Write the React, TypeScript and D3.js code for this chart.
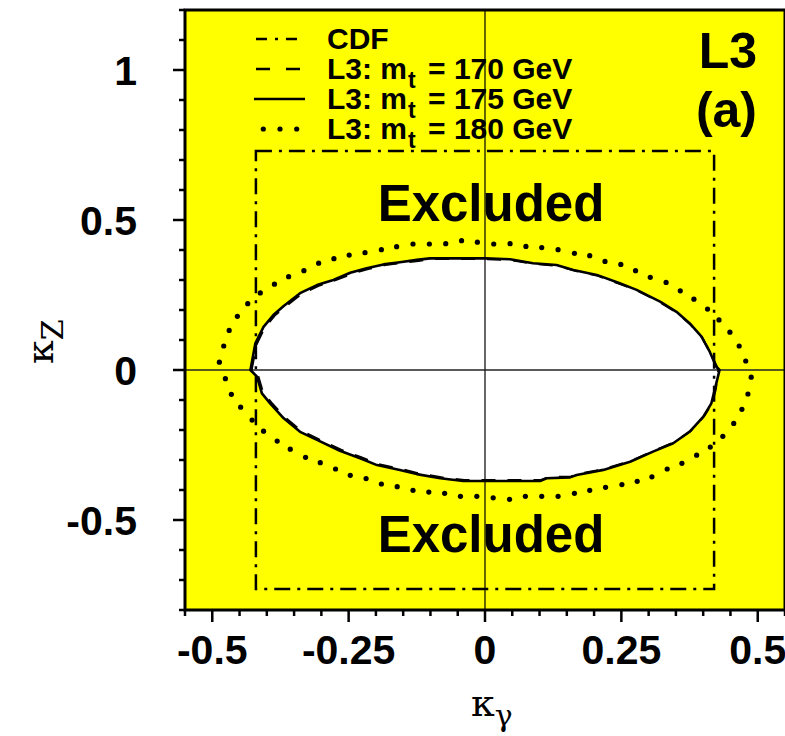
import React from "react";
import * as d3 from "d3";

// ---- data ----
const xMajorTicks = [-0.5, -0.25, 0, 0.25, 0.5];
const xTickLabels = ["-0.5", "-0.25", "0", "0.25", "0.5"];
const yMajorTicks = [-0.5, 0, 0.5, 1];
const yTickLabels = ["-0.5", "0", "0.5", "1"];
const xMinorTicks = d3.range(-11, 12).map((i) => i * 0.05);
const yMinorTicks = d3.range(-8, 13).map((i) => i * 0.1);

const cdfX = [-0.42, 0.42];
const cdfY = [-0.73, 0.73];

const l3mt175: [number, number][] = [
  [-0.43, 0], [-0.421, 0.089], [-0.406, 0.144], [-0.388, 0.183], [-0.369, 0.213], [-0.339, 0.256],
  [-0.308, 0.283], [-0.278, 0.3], [-0.247, 0.324], [-0.217, 0.339], [-0.186, 0.352], [-0.156, 0.359],
  [-0.125, 0.367], [-0.101, 0.372], [0, 0.372], [0.046, 0.369], [0.088, 0.356], [0.131, 0.35],
  [0.162, 0.333], [0.205, 0.317], [0.247, 0.289], [0.278, 0.267], [0.321, 0.228], [0.351, 0.194],
  [0.375, 0.156], [0.397, 0.111], [0.412, 0.061], [0.424, 0.011], [0.43, 0],
  [0.421, -0.067], [0.415, -0.111], [0.4, -0.156], [0.375, -0.206], [0.345, -0.244], [0.308, -0.272],
  [0.266, -0.306], [0.217, -0.333], [0.168, -0.35], [0.156, -0.358], [0.113, -0.361], [0.101, -0.37],
  [-0.04, -0.37], [-0.082, -0.361], [-0.125, -0.347], [-0.156, -0.333], [-0.198, -0.317], [-0.229, -0.294],
  [-0.266, -0.269], [-0.308, -0.233], [-0.339, -0.206], [-0.369, -0.161], [-0.394, -0.111], [-0.409, -0.078],
  [-0.418, -0.022], [-0.43, 0],
];

const l3mt170: [number, number][] = [
  [-0.428, 0], [-0.419, 0.085], [-0.404, 0.141], [-0.386, 0.181], [-0.366, 0.212], [-0.336, 0.254],
  [-0.305, 0.281], [-0.275, 0.299], [-0.244, 0.321], [-0.214, 0.337], [-0.183, 0.35], [-0.153, 0.357],
  [-0.122, 0.364], [-0.098, 0.37], [0, 0.37], [0.048, 0.366], [0.09, 0.354], [0.133, 0.347],
  [0.165, 0.331], [0.207, 0.314], [0.249, 0.286], [0.28, 0.264], [0.322, 0.225], [0.352, 0.191],
  [0.376, 0.153], [0.398, 0.108], [0.413, 0.058], [0.426, 0.008], [0.428, 0],
  [0.423, -0.064], [0.417, -0.108], [0.402, -0.153], [0.377, -0.203], [0.347, -0.241], [0.31, -0.269],
  [0.268, -0.303], [0.219, -0.33], [0.17, -0.347], [0.158, -0.355], [0.115, -0.358], [0.103, -0.367],
  [-0.038, -0.367], [-0.08, -0.358], [-0.123, -0.344], [-0.154, -0.33], [-0.196, -0.314], [-0.227, -0.291],
  [-0.264, -0.266], [-0.306, -0.23], [-0.337, -0.203], [-0.367, -0.158], [-0.392, -0.108], [-0.407, -0.075],
  [-0.416, -0.019], [-0.428, 0],
];

const l3mt180: [number, number][] = [
  [-0.487, 0.026], [-0.479, 0.08], [-0.469, 0.132], [-0.454, 0.179], [-0.435, 0.221], [-0.412, 0.257],
  [-0.386, 0.286], [-0.36, 0.311], [-0.332, 0.331], [-0.305, 0.356], [-0.277, 0.371], [-0.249, 0.383],
  [-0.22, 0.391], [-0.19, 0.401], [-0.162, 0.411], [-0.132, 0.42], [-0.102, 0.42], [-0.072, 0.421],
  [-0.043, 0.431], [-0.014, 0.426], [0.016, 0.42], [0.046, 0.421], [0.075, 0.412], [0.104, 0.408],
  [0.134, 0.401], [0.164, 0.389], [0.192, 0.381], [0.22, 0.362], [0.249, 0.352], [0.276, 0.331],
  [0.303, 0.309], [0.332, 0.292], [0.358, 0.264], [0.383, 0.236], [0.408, 0.203], [0.429, 0.167],
  [0.449, 0.126], [0.466, 0.08], [0.478, 0.03], [0.488, -0.024],
  [0.482, -0.08], [0.471, -0.131], [0.456, -0.178], [0.436, -0.221], [0.413, -0.257], [0.388, -0.284],
  [0.361, -0.311], [0.334, -0.33], [0.306, -0.356], [0.279, -0.371], [0.251, -0.382], [0.221, -0.391],
  [0.192, -0.401], [0.164, -0.411], [0.134, -0.421], [0.104, -0.421], [0.074, -0.421], [0.045, -0.431],
  [0.015, -0.426], [-0.015, -0.421], [-0.045, -0.421], [-0.074, -0.411], [-0.103, -0.407], [-0.132, -0.401],
  [-0.161, -0.389], [-0.19, -0.38], [-0.218, -0.362], [-0.247, -0.351], [-0.274, -0.33], [-0.302, -0.309],
  [-0.329, -0.291], [-0.357, -0.264], [-0.381, -0.237], [-0.406, -0.204], [-0.427, -0.167], [-0.448, -0.124],
  [-0.465, -0.081], [-0.476, -0.029],
];

const legendLabels = ["CDF", "L3: m", "L3: m", "L3: m"];
const legendSuffix = ["", " = 170 GeV", " = 175 GeV", " = 180 GeV"];

// ---- layout ----
const W = 785;
const H = 736;
const L = 185, R = 785, T = 10, B = 610;
const SANS = "'Liberation Sans', Arial, Helvetica, sans-serif";
const SERIF = "'DejaVu Serif', 'Liberation Serif', serif";
const CDF_DASH = "16 7 3 7";

export default function App() {
  const x = d3.scaleLinear().domain([-0.55, 0.55]).range([L, R]);
  const y = d3.scaleLinear().domain([-0.8, 1.2]).range([B, T]);
  const line = d3
    .line<[number, number]>()
    .x((d) => x(d[0]))
    .y((d) => y(d[1]));
  const yMaj = new Set(yMajorTicks.map((v) => v.toFixed(2)));
  const xMaj = new Set(xMajorTicks.map((v) => v.toFixed(2)));

  const legendY = [39, 69, 99, 129];

  return (
    <svg
      width={W}
      height={H}
      style={{ position: "absolute", left: 0, top: 0, background: "#fff" }}
      fontFamily={SANS}
    >
      <defs>
        <clipPath id="plot">
          <rect x={L} y={T} width={R - L} height={B - T} />
        </clipPath>
      </defs>
      <rect x={L} y={T} width={R - L} height={B - T} fill="#ffff00" />
      <g clipPath="url(#plot)">
        <path d={line(l3mt175) + "Z"} fill="#fff" stroke="none" />
        <line x1={x(0)} x2={x(0)} y1={T} y2={B} stroke="#000" strokeWidth={1.2} />
        <line x1={L} x2={R} y1={y(0)} y2={y(0)} stroke="#222" strokeWidth={1.4} />
        <rect
          x={x(cdfX[0])}
          y={y(cdfY[1])}
          width={x(cdfX[1]) - x(cdfX[0])}
          height={y(cdfY[0]) - y(cdfY[1])}
          fill="none"
          stroke="#000"
          strokeWidth={2.5}
          strokeDasharray={CDF_DASH}
        />
        <path d={line(l3mt170) + "Z"} fill="none" stroke="#000" strokeWidth={2.2} strokeDasharray="14 12" />
        <path d={line(l3mt175) + "Z"} fill="none" stroke="#000" strokeWidth={2.6} strokeLinejoin="round" />
        {l3mt180.map((d, i) => (
          <circle key={i} cx={x(d[0])} cy={y(d[1])} r={2.6} fill="#000" />
        ))}
        <text x={491} y={221} textAnchor="middle" fontSize={51} fontWeight="bold">Excluded</text>
        <text x={491} y={552} textAnchor="middle" fontSize={51} fontWeight="bold">Excluded</text>
        <text x={757} y={68} textAnchor="end" fontSize={50} fontWeight="bold">L3</text>
        <text x={757} y={127} textAnchor="end" fontSize={50} fontWeight="bold">(a)</text>
        {/* legend */}
        <line x1={256} x2={305} y1={legendY[0]} y2={legendY[0]} stroke="#000" strokeWidth={2.5} strokeDasharray="11 8 3 8" />
        <line x1={256} x2={305} y1={legendY[1]} y2={legendY[1]} stroke="#000" strokeWidth={2.5} strokeDasharray="14 16" />
        <line x1={254} x2={305} y1={legendY[2]} y2={legendY[2]} stroke="#000" strokeWidth={2.5} />
        {[263.3, 280, 296.7].map((cx, i) => (
          <circle key={i} cx={cx} cy={legendY[3]} r={2.6} fill="#000" />
        ))}
        {legendLabels.map((lab, i) => (
          <text key={i} x={327} y={legendY[i] + 10} fontSize={30} fontWeight="bold">
            {lab}
            {i > 0 && (
              <>
                <tspan dx={1} dy={9} fontSize={23}>t</tspan>
                <tspan dx={4} dy={-9}>{legendSuffix[i]}</tspan>
              </>
            )}
          </text>
        ))}
      </g>
      {/* frame */}
      <rect x={L} y={T} width={R - L} height={B - T} fill="none" stroke="#000" strokeWidth={3} />
      {/* ticks */}
      {yMinorTicks.map((v, i) => {
        const maj = yMaj.has(v.toFixed(2));
        return (
          <line key={i} x1={L} x2={L - (maj ? 12 : 6)} y1={y(v)} y2={y(v)} stroke="#000" strokeWidth={2.5} />
        );
      })}
      {xMinorTicks.map((v, i) => {
        const maj = xMaj.has(v.toFixed(2));
        return (
          <line key={i} x1={x(v)} x2={x(v)} y1={B} y2={B + (maj ? 12 : 6)} stroke="#000" strokeWidth={2.5} />
        );
      })}
      {yMajorTicks.map((v, i) => (
        <text key={i} x={137} y={y(v)} dy="0.36em" textAnchor="end" fontSize={41} fontWeight="bold">
          {yTickLabels[i]}
        </text>
      ))}
      {xMajorTicks.map((v, i) => (
        <text key={i} x={x(v)} y={664} textAnchor="middle" fontSize={41} fontWeight="bold">
          {xTickLabels[i]}
        </text>
      ))}
      {/* axis titles */}
      <text x={471} y={716} fontFamily={SERIF} fontSize={38}>
        κ<tspan dy={10} fontSize={30}>γ</tspan>
      </text>
      <text transform="translate(53,364) rotate(-90)" fontFamily={SERIF} fontSize={38}>
        κ<tspan dy={10} fontSize={30}>Z</tspan>
      </text>
    </svg>
  );
}
